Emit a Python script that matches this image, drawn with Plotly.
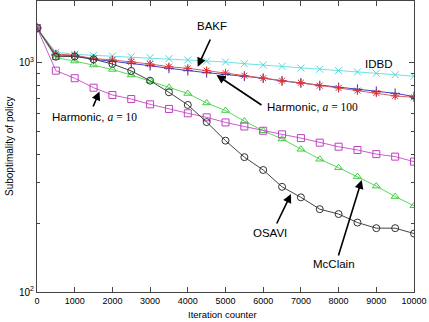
import plotly.graph_objects as go

iters = list(range(0, 10001, 500))
xticks = list(range(0, 10001, 1000))
xtick_text = [str(v) for v in xticks]

idbd = [1422, 1114, 1091, 1080, 1073, 1065, 1055, 1044, 1031, 1020, 1010,
        993, 980, 967, 951, 939, 926, 914, 902, 889, 875]
bakf = [1422, 1084, 1076, 1038, 1017, 997, 973, 948, 926, 907, 891,
        875, 858, 835, 818, 796, 782, 768, 752, 737, 714]
harm100 = [1422, 1095, 1080, 1046, 1031, 1013, 990, 963, 948, 926, 904,
           880, 858, 837, 820, 796, 778, 757, 740, 718, 708]
harm10 = [1422, 926, 858, 780, 725, 696, 660, 630, 603, 579, 550,
          528, 506, 488, 470, 449, 431, 417, 400, 390, 371]
mcclain = [1422, 1055, 1020, 980, 937, 886, 835, 782, 736, 669, 620,
           558, 506, 466, 420, 380, 349, 319, 290, 261, 238]
osavi = [1422, 1065, 1068, 1038, 990, 923, 837, 745, 656, 552, 458,
         388, 341, 288, 259, 230, 219, 201, 190, 190, 180]

series = [
    ("IDBD", idbd, "#6fe3e3", "#55d6d6", "x-thin-open"),
    ("BAKF", bakf, "#4444cc", "#3333bb", "cross-thin-open"),
    ("Harmonic, a=100", harm100, "#d86060", "#e03030", "asterisk-open"),
    ("McClain", mcclain, "#5ada5a", "#44cc44", "triangle-up-open"),
    ("Harmonic, a=10", harm10, "#cc5ccc", "#c040c0", "square-open"),
    ("OSAVI", osavi, "#444444", "#333333", "circle-open"),
]

fig = go.Figure()
for name, vals, lc, mc, sym in series:
    fig.add_trace(go.Scatter(
        x=iters, y=vals, name=name, mode="lines+markers",
        line=dict(color=lc, width=1),
        marker=dict(symbol=sym, size=7, color=mc, line=dict(color=mc, width=1))
    ))

# pixel -> data helpers (plot area: x 37..414, y 1..292)
def dx(px):
    return (px - 37) / 377 * 10000

def dy(py):
    return 2 + (292 - py) / 229

arrows = [
    ((197.7, 66.7), (211, 38)),
    ((216.5, 75), (263, 106)),
    ((99.5, 91.5), (92.5, 108)),
    ((291, 194), (276, 225)),
    ((361.7, 180), (338, 257)),
]
for (tx, ty), (sx, sy) in arrows:
    fig.add_annotation(
        x=dx(tx), y=dy(ty), ax=dx(sx), ay=dy(sy),
        xref="x", yref="y", axref="x", ayref="y",
        text="", showarrow=True, arrowhead=2, arrowsize=1.1,
        arrowwidth=1.6, arrowcolor="black"
    )

serif = "font-family:'Liberation Serif', 'DejaVu Serif', serif"
labels = [
    ("BAKF", 212, 26),
    ("IDBD", 378, 64),
    (f"Harmonic, <span style=\"{serif}\"><i>a</i> = 100</span>", 312, 107),
    (f"Harmonic, <span style=\"{serif}\"><i>a</i> = 10</span>", 94, 117),
    ("OSAVI", 270, 233),
    ("McClain", 334, 264),
]
for txt, px, py in labels:
    fig.add_annotation(
        x=dx(px), y=dy(py), xref="x", yref="y", text=txt, showarrow=False,
        font=dict(size=11.5, color="black", family="Liberation Sans, Arial")
    )

fig.add_annotation(
    x=(9 - 37) / 377, y=(292 - 146) / 291, xref="paper", yref="paper",
    xanchor="center", yanchor="middle",
    text="Suboptimality of policy", textangle=-90, showarrow=False,
    font=dict(size=10, color="black", family="Liberation Sans, Arial")
)
fig.add_annotation(
    x=(222 - 37) / 377, y=(292 - 307) / 291, xref="paper", yref="paper",
    xanchor="center", yanchor="top", text="Iteration counter", showarrow=False,
    font=dict(size=9.5, color="black", family="Liberation Sans, Arial")
)

fig.update_layout(
    width=429, height=322,
    margin=dict(l=37, r=15, t=1, b=30),
    paper_bgcolor="white", plot_bgcolor="white",
    showlegend=False,
    font=dict(family="Liberation Sans, Arial", size=9, color="black"),
    xaxis=dict(
        range=[0, 10000], tickmode="array",
        tickvals=xticks, ticktext=xtick_text,
        ticks="inside", ticklen=5, tickcolor="#444",
        showline=True, linecolor="#444", linewidth=1, mirror="ticks",
        showgrid=False, zeroline=False,
        tickfont=dict(size=9)
    ),
    yaxis=dict(
        type="log", range=[2, 3.2707],
        tickmode="array", tickvals=[100, 1000],
        ticktext=["10<sup>2</sup>", "10<sup>3</sup>"],
        ticks="inside", ticklen=5, tickcolor="#444",
        minor=dict(ticks="inside", ticklen=3, tickcolor="#444",
                   tickvals=[200, 300, 400, 500, 600, 700, 800, 900]),
        showline=True, linecolor="#444", linewidth=1, mirror="ticks",
        showgrid=False, zeroline=False,
        tickfont=dict(size=10)
    ),
)

# page body has an 8px default margin; drop it so the figure sits at 0,0
fig.write_html("out.html", config={"displayModeBar": False},
               post_script="document.body.style.margin='0';")
